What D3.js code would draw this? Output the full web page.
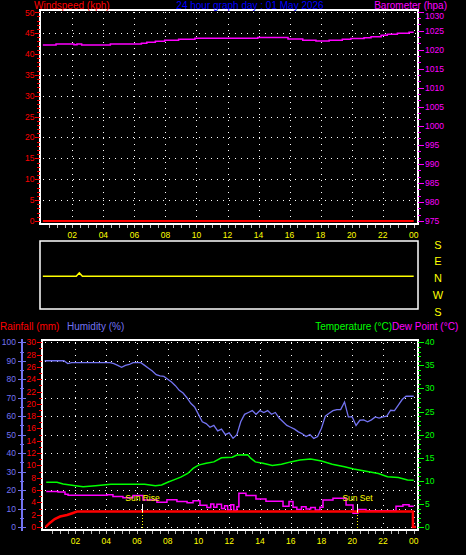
<!DOCTYPE html>
<html><head><meta charset="utf-8">
<script src="https://cdn.jsdelivr.net/npm/d3@7"></script>
<style>html,body{margin:0;padding:0;background:#000;overflow:hidden}</style>
</head><body><svg id="c" width="466" height="555"></svg>
<script>
// ---------------- DATA ----------------
const titleText = "24 hour graph day : 01 May 2026";
const hourLabels = ["02","04","06","08","10","12","14","16","18","20","22","00"];
const hourTicks = [2,4,6,8,10,12,14,16,18,20,22,24];
const windTicks = [0,5,10,15,20,25,30,35,40,45,50];
const baroTicks = [975,980,985,990,995,1000,1005,1010,1015,1020,1025,1030];
const rainTicks = [0,2,4,6,8,10,12,14,16,18,20,22,24,26,28,30];
const humTicks = [0,10,20,30,40,50,60,70,80,90,100];
const tempTicks = [0,5,10,15,20,25,30,35,40];
const dirLabels = ["S","E","N","W","S"];
const dirValues = [180,90,0,-90,-180];

// windspeed (kph)
const windTime = [0.1, 24];
const windSpeed = [0, 0];
// barometer (hPa), step after
const baroTime = [0.1,0.95,2.1,2.3,2.6,4.45,6.45,6.8,7.35,7.95,8.85,9.9,13.95,15.9,16.85,17.7,18.55,19.4,19.95,20.8,21.25,21.9,22.3,22.95,23.7,24];
const baroValue = [1021.2,1021.5,1021.3,1021.5,1021.2,1021.45,1021.65,1021.9,1022.2,1022.45,1022.7,1022.95,1023.2,1022.8,1022.45,1022.25,1022.45,1022.7,1022.9,1023.1,1023.4,1023.75,1024.0,1024.3,1024.55,1024.55];
// wind direction (deg, north = 0)
const dirTime = [0.1, 2.25, 2.45, 2.65, 24];
const dirValue = [9, 9, 27, 9, 9];

// humidity (%) every 15 min
const humTime = d3.range(0, 24.001, 0.25);
const humidity = [90,90,90,90,90,90,88.5,89,89,89,89,89,89,89,89,89,89,89,88.5,87.5,86.5,87.5,88,89,89,89,87.5,86,84.5,82.5,81.8,81.5,80,78.5,76.5,74,72.5,70,67,65,61,57,56,54,55,52,53,50,51,48,50,57,61,62,63,61,63,62,63,61,62,59,57,55,54,53,51.5,50.5,49,50,48,49,53.5,60,61.6,63,63.6,63.6,67.7,59.6,59.6,55,57.8,58,57,58,59.6,59,59.6,60,63.2,63,66,69,70.8,70.8,70.8];
// temperature (°C)
const tempTime = [0.1,0.8,1.2,2.0,2.5,3.3,4.3,6.5,7.2,7.6,8.0,8.4,8.85,9.3,9.65,10.0,10.5,11.0,11.5,12.2,12.5,13.2,13.4,13.7,14.2,14.8,15.4,16.0,16.6,17.3,18.0,18.7,19.5,20.1,20.9,21.7,22.3,23.0,23.6,24];
const temperature = [9.7,9.7,9.3,8.95,8.7,8.95,9.25,9.25,8.95,9.1,9.7,10.2,10.8,11.6,12.7,13.4,13.8,14.1,15.0,15.1,15.6,15.65,14.9,14.1,13.8,13.3,13.6,14.1,14.5,14.7,14.3,13.6,13.05,12.55,12.05,11.6,10.9,10.7,10.2,10.1];
// dew point (°C), step after
const dewTime = [0.1,0.87,1.32,1.52,4.05,4.44,5.09,5.74,6.39,7.3,7.95,8.6,9.26,9.65,10.1,10.55,10.8,11.0,11.2,11.5,11.7,11.9,12.1,12.3,12.5,12.63,13.09,13.74,14.39,15.5,15.89,16.15,16.4,16.7,17.0,17.3,17.6,17.9,18.1,18.75,19.6,20.05,20.37,20.9,22.85,23.3,23.7,24];
const dewPoint = [7.7,7.6,7.1,6.85,7.0,6.6,6.35,6.8,5.85,5.35,5.9,5.5,5.25,5.7,4.7,4.2,5.0,4.3,4.9,4.0,4.6,3.7,4.8,3.6,4.4,7.3,6.8,6.05,5.6,4.5,5.5,4.3,3.8,4.4,3.9,4.2,3.7,4.3,5.85,6.2,4.75,3.0,3.8,3.5,4.5,4.8,4.5,4.5];
// rainfall (mm)
const rainTime = [0.05,0.1,0.35,0.65,1.0,1.45,1.75,2.1,23.95,23.95,24.15];
const rainfall = [0,0.1,0.7,1.3,1.7,1.95,2.2,2.5,2.5,0,0];
// sun events (hours)
const sunTime = [6.35, 20.33];
const sunLabel = ["Sun Rise", "Sun Set"];

// ---------------- STYLE ----------------
const FONT = "'Liberation Sans', Arial, sans-serif";
const C = {red:"#ff0000", mag:"#ff00ff", blue:"#0000ff", yel:"#ffff00", grn:"#00ff00", hum:"#7373f0", wht:"#ffffff"};

const svg = d3.select("#c");
svg.append("rect").attr("width",466).attr("height",555).attr("fill","#000");

function txt(g, x, y, s, col, size, anchor, base){
  return g.append("text").attr("x",x).attr("y",y).text(s)
    .attr("fill",col).attr("font-family",FONT).attr("font-size",size)
    .attr("text-anchor",anchor||"start").attr("dominant-baseline",base||"central");
}
function hline(g,x1,x2,y,col,w,dash){
  const l=g.append("line").attr("x1",x1).attr("x2",x2).attr("y1",y).attr("y2",y).attr("stroke",col).attr("stroke-width",w||1);
  if(dash) l.attr("stroke-dasharray",dash); return l;
}
function vline(g,x,y1,y2,col,w,dash){
  const l=g.append("line").attr("x1",x).attr("x2",x).attr("y1",y1).attr("y2",y2).attr("stroke",col).attr("stroke-width",w||1);
  if(dash) l.attr("stroke-dasharray",dash); return l;
}
const px = v => Math.round(v)+0.5;

// ================= TOP PANEL =================
const xT = d3.scaleLinear([0,24],[41.3,413.7]);
const yW = d3.scaleLinear([0,50],[221,12.2]);
const yB = d3.scaleLinear([975,1030],[221,11.5]);
const topG = svg.append("g");

hourTicks.forEach(h=>vline(topG,px(xT(h)),12,222,"#fff",1,"1,5"));
windTicks.filter(v=>v>0).forEach(v=>hline(topG,43,416,px(yW(v)),"#fff",1,"1,5"));

topG.append("rect").attr("x",40).attr("y",10).attr("width",378).attr("height",214)
  .attr("fill","none").attr("stroke","#fff").attr("stroke-width",2);

d3.range(0,51,1).forEach(v=>hline(topG,v%5===0?35:37,40,px(yW(v)),C.red,1));
windTicks.forEach((v,i)=>txt(topG,34.5,yW(v)+(i===windTicks.length-1?1:0),String(v),C.red,"8.5px","end"));
baroTicks.forEach((v,i)=>{
  hline(topG,418,424,px(yB(v)),C.mag,1);
  if(i<baroTicks.length-1){ [1,2].forEach(k=>hline(topG,418,421,px(yB(v+5*k/3)),C.mag,1)); }
  txt(topG,425,yB(v)+(i===baroTicks.length-1?4:0),String(v),C.mag,"8.5px","start");
});
d3.range(0.5,24.01,0.5).forEach(t=>vline(topG,px(xT(t)),225,228,"#bbb",1));
hourTicks.forEach((h,i)=>txt(topG,xT(h),235,hourLabels[i],C.yel,"8.5px","middle"));

txt(topG,34,8.6,"Windspeed (kph)",C.red,"10px","start","alphabetic");
txt(topG,250,8.6,titleText,C.blue,"10px","middle","alphabetic");
txt(topG,447,8.6,"Barometer (hpa)",C.mag,"10px","end","alphabetic");

const windLine = d3.line().x((d,i)=>xT(windTime[i])).y(d=>yW(d));
topG.append("path").attr("d",windLine(windSpeed)).attr("fill","none").attr("stroke",C.red).attr("stroke-width",2);
const baroLine = d3.line().x((d,i)=>xT(baroTime[i])).y(d=>yB(d)).curve(d3.curveStepAfter);
topG.append("path").attr("d",baroLine(baroValue)).attr("fill","none").attr("stroke",C.mag).attr("stroke-width",1.5);

// ================= DIRECTION PANEL =================
const yD = d3.scaleLinear([180,-180],[244.5,311.5]);
const dirG = svg.append("g");
dirG.append("rect").attr("x",40).attr("y",241).attr("width",378).attr("height",68)
  .attr("fill","none").attr("stroke","#fff").attr("stroke-width",1.5);
dirLabels.forEach((s,i)=>txt(dirG,438,yD(dirValues[i]),s,C.yel,"11px","middle"));
const dirLine = d3.line().x((d,i)=>xT(dirTime[i])).y(d=>yD(d));
dirG.append("path").attr("d",dirLine(dirValue)).attr("fill","none").attr("stroke",C.yel).attr("stroke-width",1.5);

// ================= BOTTOM PANEL =================
const xB = d3.scaleLinear([0,24],[44.7,413.7]);
const yR = d3.scaleLinear([0,30],[527,342.3]);
const yH = d3.scaleLinear([0,100],[527,342.3]);
const yTm = d3.scaleLinear([0,40],[527,342.3]);
const bot = svg.append("g");

hourTicks.forEach(h=>vline(bot,px(xB(h)),343,528,"#fff",1,"1,5"));
humTicks.forEach(v=>hline(bot,45,416,px(yH(v)),"#fff",1,"1,5"));

bot.append("rect").attr("x",42).attr("y",340).attr("width",376).attr("height",190)
  .attr("fill","none").attr("stroke","#fff").attr("stroke-width",2);

vline(bot,22,339,531,C.hum,2);
d3.range(0,101,5).forEach(v=>hline(bot,v%10===0?18:20,v%10===0?26:24,px(yH(v)),C.hum,1));
humTicks.forEach(v=>txt(bot,16,yH(v),String(v),C.hum,"8.5px","end"));
d3.range(0,31,1).forEach(v=>hline(bot,v%2===0?37:39,42,px(yR(v)),C.red,1));
rainTicks.forEach(v=>txt(bot,36,yR(v),String(v),C.red,"8.5px","end"));
d3.range(0,41,1).forEach(v=>hline(bot,418,v%5===0?424:421,px(yTm(v)),C.grn,1));
tempTicks.forEach(v=>txt(bot,425,yTm(v),String(v),C.grn,"8.5px","start"));
d3.range(0.5,24.01,0.5).forEach(t=>vline(bot,px(xB(t)),531,534,"#bbb",1));
hourTicks.forEach((h,i)=>txt(bot,xB(h),541,hourLabels[i],C.yel,"8.5px","middle"));

txt(bot,0,326.7,"Rainfall (mm)",C.red,"10px","start");
txt(bot,67,326.7,"Humidity (%)",C.hum,"10px","start");
txt(bot,392,326.7,"Temperature (°C)",C.grn,"10px","end");
txt(bot,392,326.7,"Dew Point (°C)",C.mag,"10px","start");

const humLine = d3.line().x((d,i)=>xB(humTime[i])).y(d=>yH(d));
bot.append("path").attr("d",humLine(humidity)).attr("fill","none").attr("stroke",C.hum).attr("stroke-width",1.3);
const tempLine = d3.line().x((d,i)=>xB(tempTime[i])).y(d=>yTm(d));
bot.append("path").attr("d",tempLine(temperature)).attr("fill","none").attr("stroke",C.grn).attr("stroke-width",1.5);
const dewLine = d3.line().x((d,i)=>xB(dewTime[i])).y(d=>yTm(d)).curve(d3.curveStepAfter);
bot.append("path").attr("d",dewLine(dewPoint)).attr("fill","none").attr("stroke",C.mag).attr("stroke-width",1.5);
const rainLine = d3.line().x((d,i)=>xB(rainTime[i])).y(d=>yR(d));
bot.append("path").attr("d",rainLine(rainfall)).attr("fill","none").attr("stroke",C.red).attr("stroke-width",2.5);

sunTime.forEach((t,i)=>{
  const x = px(xB(t));
  vline(bot,x,504,512,"#fff",1);
  vline(bot,x,512,530,C.yel,1,"1,2");
  txt(bot,x,498,sunLabel[i],C.yel,"8.5px","middle");
});
</script></body></html>
